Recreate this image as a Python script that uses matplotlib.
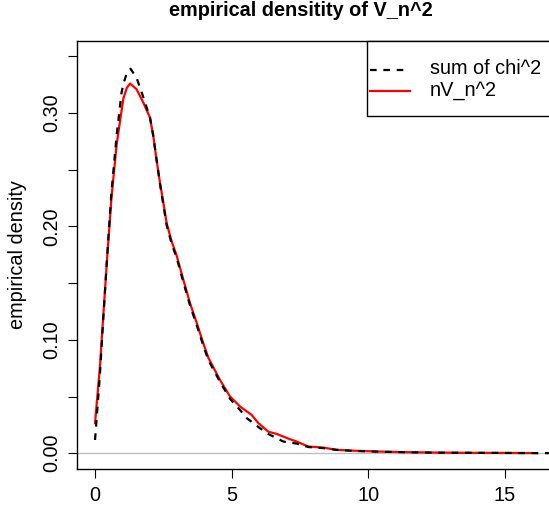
import matplotlib
matplotlib.use("Agg")
import matplotlib.pyplot as plt
from matplotlib.lines import Line2D
from matplotlib.patches import Rectangle

plt.rcParams['font.family'] = ['Liberation Sans', 'DejaVu Sans']

# nV_n^2 empirical density (red)
red_x = [0.00, 0.18, 0.30, 0.46, 0.60, 0.79, 0.915, 1.04, 1.16, 1.28, 1.52, 1.77,
         2.01, 2.13, 2.25, 2.38, 2.50, 2.62, 2.80, 2.99, 3.23, 3.48, 3.72, 3.96,
         4.15, 4.57, 4.94, 5.31, 5.73, 5.98, 6.34, 6.65, 7.13, 7.38, 7.80, 8.35,
         8.83, 9.5, 10.5, 11.5, 12.5, 13.5, 14.5, 15.5, 16.16]
red_y = [0.0265, 0.0765, 0.1206, 0.178, 0.225, 0.272, 0.293, 0.313, 0.322, 0.326,
         0.321, 0.309, 0.296, 0.280, 0.259, 0.238, 0.221, 0.203, 0.187, 0.174,
         0.153, 0.132, 0.115, 0.097, 0.084, 0.0647, 0.050, 0.0411, 0.0338, 0.0265,
         0.019, 0.017, 0.0124, 0.0103, 0.0059, 0.005, 0.003, 0.0022, 0.0014,
         0.0009, 0.0006, 0.0004, 0.0003, 0.0002, 0.0001]

# sum of chi^2 empirical density (black dashed)
blk_x = [0.00, 0.18, 0.30, 0.46, 0.60, 0.79, 0.97, 1.04, 1.16, 1.30, 1.52, 1.71,
         2.01, 2.13, 2.25, 2.38, 2.50, 2.62, 2.80, 2.99, 3.23, 3.48, 3.72, 3.96,
         4.15, 4.57, 4.94, 5.31, 5.55, 6.04, 6.34, 6.89, 7.38, 7.80, 8.35, 8.83,
         9.5, 10.5, 11.5, 12.5, 13.5, 14.5, 15.5, 16.5, 17.2]
blk_y = [0.0117, 0.070, 0.118, 0.180, 0.230, 0.280, 0.318, 0.326, 0.335, 0.339,
         0.331, 0.318, 0.296, 0.280, 0.259, 0.237, 0.219, 0.201, 0.185, 0.172,
         0.151, 0.130, 0.113, 0.095, 0.082, 0.063, 0.048, 0.038, 0.031, 0.022,
         0.017, 0.0103, 0.0085, 0.0055, 0.0045, 0.003, 0.002, 0.0013, 0.0008,
         0.0005, 0.0004, 0.0003, 0.0002, 0.0001, 0.0]

title = "empirical densitity of V_n^2"
ylabel = "empirical density"
legend_labels = ["sum of chi^2", "nV_n^2"]
xticks = [0, 5, 10, 15]
yticks_all = [0.00, 0.05, 0.10, 0.15, 0.20, 0.25, 0.30, 0.35]

FS = 14.3
W, H = 549, 508
fig = plt.figure(figsize=(W / 100, H / 100), dpi=100)
left, right, top, bottom = 77, 564, 41, 469
ax = fig.add_axes([left / W, 1 - bottom / H, (right - left) / W, (bottom - top) / H])

ax.axhline(0, color='#BEBEBE', lw=1.0, zorder=1)
ax.plot(blk_x, blk_y, color='black', lw=1.6, dashes=(3, 3), zorder=3)
ax.plot(red_x, red_y, color='red', lw=1.6, zorder=2)

ax.set_xlim(-0.66, 17.16)
ax.set_ylim(-0.0139, 0.3635)

ax.set_xticks(xticks)
ax.set_xticklabels([str(t) for t in xticks])
ax.set_yticks(yticks_all)
ax.set_yticklabels(["%.2f" % t if round(t * 100) % 10 == 0 else "" for t in yticks_all],
                   rotation=90, va='center')
ax.tick_params(axis='both', length=6.5, width=0.8, labelsize=FS, color='black')
ax.tick_params(axis='y', pad=5)
ax.tick_params(axis='x', pad=6)
for s in ax.spines.values():
    s.set_linewidth(1.0)

fig.text(18 / W, 1 - 255 / H, ylabel, rotation=90, ha='center', va='center', fontsize=FS)
fig.text(301 / W, 1 - 10 / H, title, ha='center', va='center', fontsize=FS, fontweight='bold')

# legend drawn in figure pixel coordinates
def fx(px):
    return px / W

def fy(py):
    return 1 - py / H

fig.patches.append(Rectangle((fx(367), fy(116)), fx(620) - fx(367), fy(41) - fy(116),
                             transform=fig.transFigure, facecolor='white',
                             edgecolor='black', lw=1.0, zorder=5))
fig.lines.append(Line2D([fx(370), fx(410)], [fy(70), fy(70)], transform=fig.transFigure,
                        color='black', lw=1.6, dashes=(3, 3), zorder=6))
fig.lines.append(Line2D([fx(370), fx(410)], [fy(91), fy(91)], transform=fig.transFigure,
                        color='red', lw=1.6, zorder=6))
fig.text(fx(430), fy(69), legend_labels[0], ha='left', va='center', fontsize=FS, zorder=7)
fig.text(fx(430), fy(91), legend_labels[1], ha='left', va='center', fontsize=FS, zorder=7)

fig.savefig("out.png", dpi=100)
